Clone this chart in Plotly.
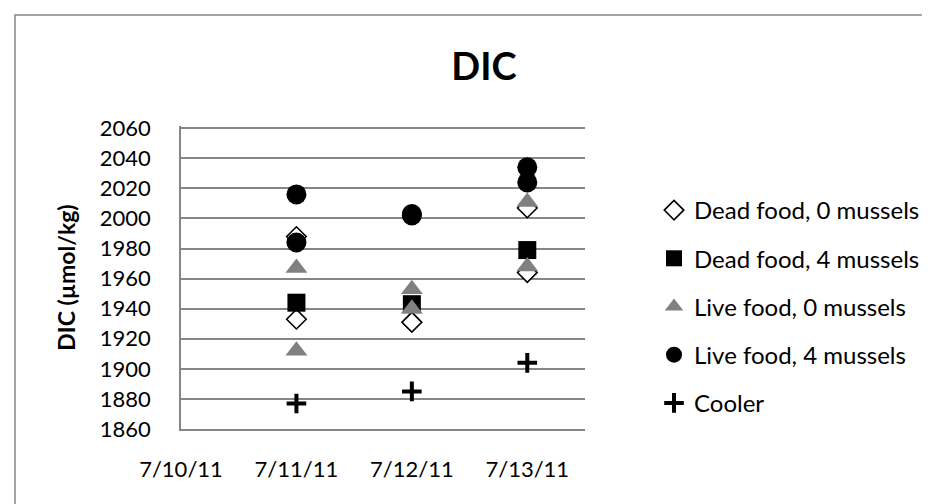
import plotly.graph_objects as go

# ---- data ----
dead0_dates = ["2011-07-11", "2011-07-11", "2011-07-12", "2011-07-12", "2011-07-13", "2011-07-13"]
dead0_vals = [1988, 1933, 1931, 1931, 2007, 1964]

dead4_dates = ["2011-07-11", "2011-07-12", "2011-07-13"]
dead4_vals = [1944, 1943, 1979]

live0_dates = ["2011-07-11", "2011-07-11", "2011-07-12", "2011-07-12", "2011-07-13", "2011-07-13"]
live0_vals = [1967, 1912, 1953, 1940, 2011, 1968]

live4_dates = ["2011-07-11", "2011-07-11", "2011-07-12", "2011-07-12", "2011-07-13", "2011-07-13"]
live4_vals = [2016, 1984, 2002, 2003, 2034, 2024]

cooler_dates = ["2011-07-11", "2011-07-12", "2011-07-13"]
cooler_vals = [1877, 1885, 1904]

series_names = ["Dead food, 0 mussels", "Dead food, 4 mussels", "Live food, 0 mussels",
                "Live food, 4 mussels", "Cooler"]

FONT = "Lato"
W, H = 930, 504
ML, MR, MT, MB = 173, 353, 118, 83
PW, PH = W - ML - MR, H - MT - MB

def px_x(p):
    return (p - ML) / PW

def px_y(p):
    return (H - MB - p) / PH

fig = go.Figure()

fig.add_trace(go.Scatter(x=dead0_dates, y=dead0_vals, mode="markers", name=series_names[0],
                         legendgroup="a",
                         marker=dict(symbol="diamond", size=15, color="white",
                                     line=dict(color="black", width=1.6))))
fig.add_trace(go.Scatter(x=dead4_dates, y=dead4_vals, mode="markers", name=series_names[1],
                         legendgroup="b",
                         marker=dict(symbol="square", size=18, color="black",
                                     line=dict(color="black", width=0))))
fig.add_trace(go.Scatter(x=live0_dates, y=live0_vals, mode="markers", name=series_names[2],
                         legendgroup="c",
                         marker=dict(symbol="triangle-up", size=19, color="#808080",
                                     line=dict(color="#808080", width=0))))
fig.add_trace(go.Scatter(x=live4_dates, y=live4_vals, mode="markers", name=series_names[3],
                         legendgroup="d",
                         marker=dict(symbol="circle", size=20, color="black",
                                     line=dict(color="black", width=0))))
fig.add_trace(go.Scatter(x=cooler_dates, y=cooler_vals, mode="markers", name=series_names[4],
                         legendgroup="e",
                         marker=dict(symbol="cross-thin", size=14, color="black",
                                     line=dict(color="black", width=4))))

fig.update_layout(
    width=W, height=H,
    margin=dict(l=ML, r=MR, t=MT, b=MB, pad=0),
    paper_bgcolor="white", plot_bgcolor="white",
    font=dict(family=FONT, color="black", size=22),
    title=dict(text="DIC", font=dict(family=FONT, size=38, weight="bold", color="black"),
               x=476 / W, xref="container", xanchor="center",
               y=1 - 59 / H, yref="container", yanchor="middle"),
    showlegend=True,
    legend=dict(x=px_x(646), xanchor="left", y=px_y(180), yanchor="top",
                font=dict(family=FONT, size=24, color="black"),
                itemsizing="trace", traceorder="grouped", tracegroupgap=14,
                bgcolor="rgba(0,0,0,0)", borderwidth=0),
    xaxis=dict(type="date", range=["2011-07-10", "2011-07-13 12:00"],
               tick0="2011-07-10", dtick=86400000, tickformat="%-m/%-d/%y",
               showgrid=False, zeroline=False, showline=True, linecolor="#868686",
               linewidth=1.5, ticks="", ticklabelstandoff=20,
               tickfont=dict(family=FONT, size=22, color="black")),
    yaxis=dict(range=[1860, 2061.5], dtick=20, tick0=1860,
               showgrid=True, gridcolor="#868686", gridwidth=1.5,
               zeroline=False, showline=True, linecolor="#868686", linewidth=1.5,
               ticks="", ticklabelstandoff=24,
               tickfont=dict(family=FONT, size=22, color="black"),
               title=dict(text="DIC (µmol/kg)", standoff=18,
                          font=dict(family=FONT, size=23, weight="bold", color="black"))),
    shapes=[dict(type="rect", xref="paper", yref="paper",
                 x0=px_x(7), x1=px_x(945), y0=px_y(520), y1=px_y(7),
                 line=dict(color="#868686", width=1.5), fillcolor="rgba(0,0,0,0)",
                 layer="below")],
)

fig.write_html("out.html")
